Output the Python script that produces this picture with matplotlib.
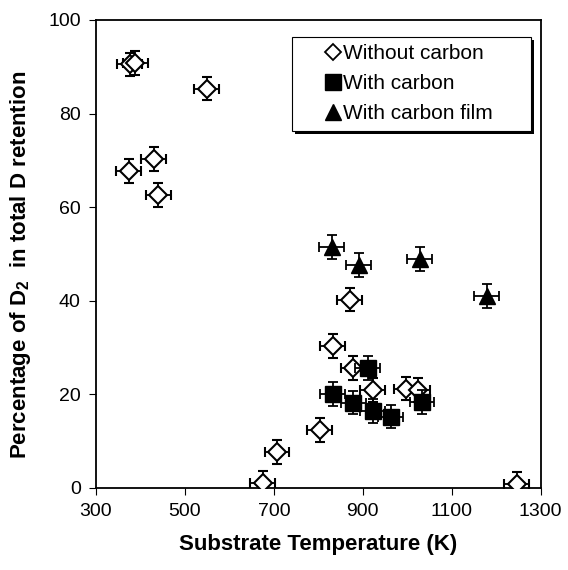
import numpy as np
import matplotlib
matplotlib.use('Agg')
import matplotlib.pyplot as plt
from matplotlib.patches import Rectangle

plt.rcParams['font.family'] = ['Liberation Sans', 'DejaVu Sans']
plt.rcParams['mathtext.fontset'] = 'custom'
plt.rcParams['mathtext.bf'] = 'Liberation Sans:bold'
plt.rcParams['mathtext.rm'] = 'Liberation Sans'
plt.rcParams['mathtext.default'] = 'bf'

# without carbon (open diamonds)
t_wo = [376, 388, 549, 374, 430, 440, 871, 832, 878, 922, 997, 1024, 803, 707, 675, 1246]
p_wo = [90.5, 90.8, 85.3, 67.7, 70.3, 62.6, 40.2, 30.3, 25.6, 20.9, 21.2, 20.9, 12.4, 7.7, 1.1, 0.9]
# with carbon (filled squares)
t_c = [911, 832, 878, 922, 963, 1033]
p_c = [25.6, 20.1, 18.2, 16.4, 15.2, 18.4]
# with carbon film (filled triangles)
t_f = [830, 891, 1028, 1179]
p_f = [51.5, 47.6, 48.9, 41.0]

x_err = 28
y_err = 2.5

fig = plt.figure(figsize=(5.68, 5.70), dpi=100)
ax = fig.add_axes([0.169, 0.144, 0.783, 0.821])

eb = dict(ecolor='black', elinewidth=1.3, capsize=3.5, capthick=1.3, linestyle='none')
ax.errorbar(t_wo, p_wo, xerr=x_err, yerr=y_err, marker='D', ms=9.5, mfc='white',
            mec='black', mew=1.5, zorder=3, **eb)
ax.errorbar(t_c, p_c, xerr=x_err, yerr=y_err, marker='s', ms=11, mfc='black',
            mec='black', zorder=4, **eb)
ax.errorbar(t_f, p_f, xerr=x_err, yerr=y_err, marker='^', ms=11, mfc='black',
            mec='black', zorder=4, **eb)

# legend box with black drop shadow
bx0, bx1, by0, by1 = 0.440, 0.978, 0.763, 0.964
ax.add_patch(Rectangle((bx0 + 0.007, by0 - 0.0065), bx1 - bx0, by1 - by0,
                       transform=ax.transAxes, facecolor='black', edgecolor='none',
                       zorder=5, clip_on=False))
ax.add_patch(Rectangle((bx0, by0), bx1 - bx0, by1 - by0, transform=ax.transAxes,
                       facecolor='white', edgecolor='black', lw=0.8, zorder=6,
                       clip_on=False))

h1, = ax.plot([], [], 'D', ms=8.5, mfc='white', mec='black', mew=1.3)
h2, = ax.plot([], [], 's', ms=12, mfc='black', mec='black')
h3, = ax.plot([], [], '^', ms=12, mfc='black', mec='black')
leg = ax.legend([h1, h2, h3], ['Without carbon', 'With carbon', 'With carbon film'],
                loc='center', bbox_to_anchor=((bx0 + bx1) / 2 - 0.005, (by0 + by1) / 2),
                fontsize=15, handlelength=0.7, handletextpad=0.1, borderpad=0.2,
                labelspacing=0.52, frameon=False)
leg.set_zorder(7)

ax.set_xlim(300, 1300)
ax.set_ylim(0, 100)
ax.set_xticks([300, 500, 700, 900, 1100, 1300])
ax.set_yticks([0, 20, 40, 60, 80, 100])
ax.tick_params(direction='out', length=5, width=0.8, labelsize=14, pad=6)
for s in ax.spines.values():
    s.set_linewidth(1.3)

ax.set_xlabel('Substrate Temperature (K)', fontsize=16, fontweight='bold', labelpad=10)
ax.set_ylabel('Percentage of D$_2$  in total D retention', fontsize=16,
              fontweight='bold')
ax.yaxis.set_label_coords(-0.142, 0.477)

fig.savefig('out.png', dpi=100)
